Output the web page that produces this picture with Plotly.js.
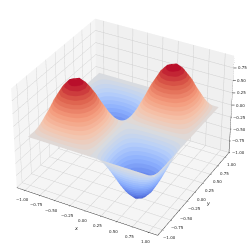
<!DOCTYPE html>
<html><head><meta charset="utf-8">
<script src="https://cdn.plot.ly/plotly-3.0.1.min.js"></script>
<style>html,body{margin:0;padding:0;background:#fff;width:249px;height:249px;overflow:hidden}
#frame{position:absolute;left:0;top:0;width:249px;height:249px;overflow:hidden;filter:blur(0.35px)}
#chart{position:absolute;left:-405px;top:-408px;width:1060px;height:1060px}</style></head><body>
<div id="frame"><div id="chart"></div></div>
<script>
const xValues=[-1,-0.9,-0.8,-0.7,-0.6,-0.5,-0.4,-0.3,-0.2,-0.1,0,0.1,0.2,0.3,0.4,0.5,0.6,0.7,0.8,0.9,1];
const yValues=[-1,-0.9,-0.8,-0.7,-0.6,-0.5,-0.4,-0.3,-0.2,-0.1,0,0.1,0.2,0.3,0.4,0.5,0.6,0.7,0.8,0.9,1];
const zValues=[
[0,0,0,0,0,0,0,0,0,0,0,0,0,0,0,0,0,0,0,0,0],
[0,.095,.182,.25,.294,.309,.294,.25,.182,.095,0,-.095,-.182,-.25,-.294,-.309,-.294,-.25,-.182,-.095,0],
[0,.182,.345,.476,.559,.588,.559,.476,.345,.182,0,-.182,-.345,-.476,-.559,-.588,-.559,-.476,-.345,-.182,0],
[0,.25,.476,.655,.769,.809,.769,.655,.476,.25,0,-.25,-.476,-.655,-.769,-.809,-.769,-.655,-.476,-.25,0],
[0,.294,.559,.769,.905,.951,.905,.769,.559,.294,0,-.294,-.559,-.769,-.905,-.951,-.905,-.769,-.559,-.294,0],
[0,.309,.588,.809,.951,1,.951,.809,.588,.309,0,-.309,-.588,-.809,-.951,-1,-.951,-.809,-.588,-.309,0],
[0,.294,.559,.769,.905,.951,.905,.769,.559,.294,0,-.294,-.559,-.769,-.905,-.951,-.905,-.769,-.559,-.294,0],
[0,.25,.476,.655,.769,.809,.769,.655,.476,.25,0,-.25,-.476,-.655,-.769,-.809,-.769,-.655,-.476,-.25,0],
[0,.182,.345,.476,.559,.588,.559,.476,.345,.182,0,-.182,-.345,-.476,-.559,-.588,-.559,-.476,-.345,-.182,0],
[0,.095,.182,.25,.294,.309,.294,.25,.182,.095,0,-.095,-.182,-.25,-.294,-.309,-.294,-.25,-.182,-.095,0],
[0,0,0,0,0,0,0,0,0,0,0,0,0,0,0,0,0,0,0,0,0],
[0,-.095,-.182,-.25,-.294,-.309,-.294,-.25,-.182,-.095,0,.095,.182,.25,.294,.309,.294,.25,.182,.095,0],
[0,-.182,-.345,-.476,-.559,-.588,-.559,-.476,-.345,-.182,0,.182,.345,.476,.559,.588,.559,.476,.345,.182,0],
[0,-.25,-.476,-.655,-.769,-.809,-.769,-.655,-.476,-.25,0,.25,.476,.655,.769,.809,.769,.655,.476,.25,0],
[0,-.294,-.559,-.769,-.905,-.951,-.905,-.769,-.559,-.294,0,.294,.559,.769,.905,.951,.905,.769,.559,.294,0],
[0,-.309,-.588,-.809,-.951,-1,-.951,-.809,-.588,-.309,0,.309,.588,.809,.951,1,.951,.809,.588,.309,0],
[0,-.294,-.559,-.769,-.905,-.951,-.905,-.769,-.559,-.294,0,.294,.559,.769,.905,.951,.905,.769,.559,.294,0],
[0,-.25,-.476,-.655,-.769,-.809,-.769,-.655,-.476,-.25,0,.25,.476,.655,.769,.809,.769,.655,.476,.25,0],
[0,-.182,-.345,-.476,-.559,-.588,-.559,-.476,-.345,-.182,0,.182,.345,.476,.559,.588,.559,.476,.345,.182,0],
[0,-.095,-.182,-.25,-.294,-.309,-.294,-.25,-.182,-.095,0,.095,.182,.25,.294,.309,.294,.25,.182,.095,0],
[0,0,0,0,0,0,0,0,0,0,0,0,0,0,0,0,0,0,0,0,0]];
const colorStops=['#3b4cc0','#6485ec','#8db0fe','#b8d0f9','#dddcdc','#f5c4ac','#f49a7b','#dc5d4a','#b40426'];
const xyTicks=[-1,-0.75,-0.5,-0.25,0,0.25,0.5,0.75,1];
const zTicks=[-1,-0.75,-0.5,-0.25,0,0.25,0.5,0.75];
const xyRange=[-1.14,1.14], zRange=[-1,0.99];
function hex(h){return [1,3,5].map(i=>parseInt(h.substr(i,2),16));}
const steps=32,scale=[];
for(let i=0;i<steps;i++){
  const t=(i+0.5)/steps*(colorStops.length-1),k=Math.floor(t),f=t-k;
  const a=hex(colorStops[k]),b=hex(colorStops[Math.min(k+1,colorStops.length-1)]);
  const c='rgb('+a.map((v,j)=>Math.round(v+(b[j]-v)*f)).join(',')+')';
  scale.push([i/steps,c],[(i+1)/steps,c]);
}
const fmt=v=>v.toFixed(2).replace('-','\u2212');
function axis(range,ticks,bg,line){return {
  title:{text:''},range:range,tickvals:ticks,showticklabels:false,
  showbackground:true,backgroundcolor:bg,showgrid:true,gridcolor:'#d0d0d0',gridwidth:1,
  zeroline:false,showline:line,linecolor:'#333',linewidth:1,ticks:line?'outside':'',ticklen:1,tickcolor:'#333',tickwidth:1,
  showspikes:false};}
const labelFont={size:4,family:'DejaVu Sans',color:'#222'};
const note=(x,y,z,text,xs,ys,font)=>({x,y,z,text,showarrow:false,xshift:xs,yshift:ys,font:font||labelFont});
const annotations=[
  ...xyTicks.map(v=>note(v,xyRange[0],zRange[0],fmt(v),-3,-9.5)),
  ...xyTicks.map(v=>note(xyRange[1],v,zRange[0],fmt(v),7,-7.5)),
  ...zTicks.map(v=>({x:xyRange[1],y:xyRange[1],z:v,text:fmt(v),showarrow:true,arrowhead:0,arrowwidth:0.6,arrowcolor:'#333',ax:9,ay:0,standoff:0,font:labelFont})),
  note(0,xyRange[0],zRange[0],'<i>x</i>',-9,-17,{size:5,family:'DejaVu Sans',color:'#222'}),
  note(xyRange[1],0,zRange[0],'<i>y</i>',14,-11,{size:5,family:'DejaVu Sans',color:'#222'})
];
const data=[{type:'surface',x:xValues,y:yValues,z:zValues,colorscale:scale,cmin:-1,cmax:1,showscale:false,
  lighting:{ambient:1,diffuse:0,specular:0,roughness:1,fresnel:0},hoverinfo:'skip'},
  {type:'scatter3d',mode:'lines',x:[xyRange[1],xyRange[1]],y:[xyRange[1],xyRange[1]],z:zRange,line:{color:'#333',width:1},hoverinfo:'skip',showlegend:false}];
const el=33*Math.PI/180,az=-61*Math.PI/180,dist=8;
const layout={width:1060,height:1060,margin:{l:0,r:0,t:0,b:0},paper_bgcolor:'#fff',showlegend:false,
  scene:{domain:{x:[0,1],y:[0,1]},aspectmode:'manual',aspectratio:{x:1,y:1,z:0.73},
    camera:{eye:{x:dist*Math.cos(el)*Math.cos(az),y:dist*Math.cos(el)*Math.sin(az),z:dist*Math.sin(el)},center:{x:0,y:0,z:0},up:{x:0,y:0,z:1},projection:{type:'perspective'}},
    xaxis:axis(xyRange,xyTicks,'#f5f5f5',true),yaxis:axis(xyRange,xyTicks,'#f0f0f0',true),zaxis:axis(zRange,zTicks,'#f5f5f5',false),bgcolor:'#fff',annotations:annotations}};
Plotly.newPlot('chart',data,layout,{displayModeBar:false});
</script></body></html>
